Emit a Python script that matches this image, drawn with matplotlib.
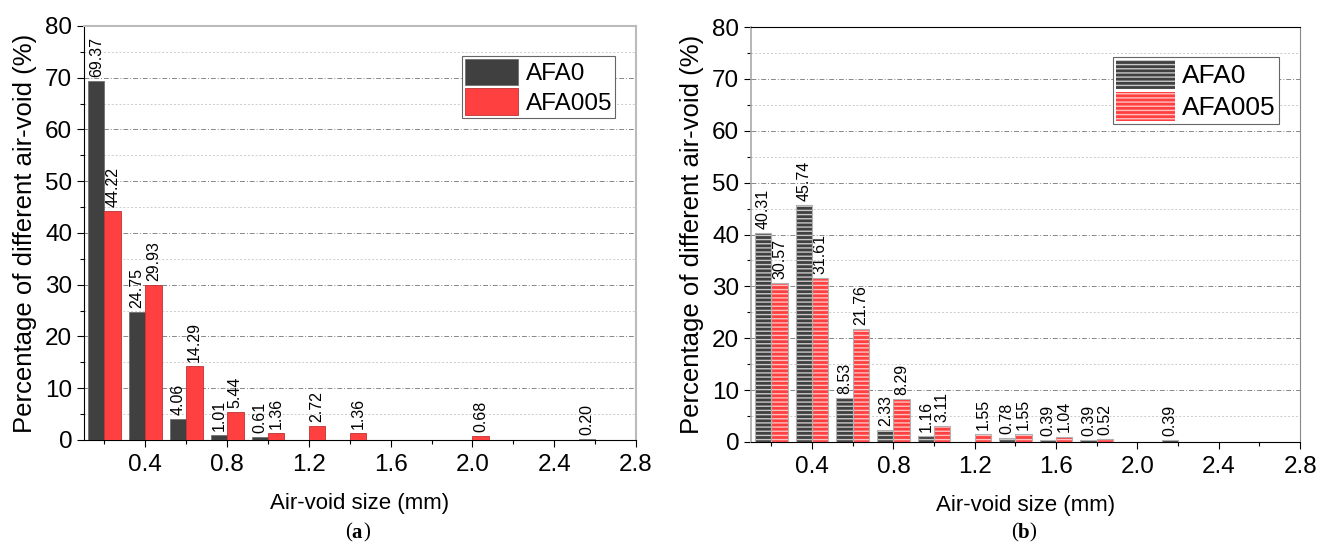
import numpy as np
import matplotlib.pyplot as plt
from matplotlib.patches import Patch

plt.rcParams['font.family'] = ['Liberation Sans', 'DejaVu Sans']

# air-void size groups (mm)
sizes = [0.2, 0.4, 0.6, 0.8, 1.0, 1.2, 1.4, 1.6, 1.8, 2.0, 2.2, 2.4, 2.6]

# panel (a)
a_afa0 = [69.37, 24.75, 4.06, 1.01, 0.61, 0, 0, 0, 0, 0, 0, 0, 0.20]
a_afa005 = [44.22, 29.93, 14.29, 5.44, 1.36, 2.72, 1.36, 0, 0, 0.68, 0, 0, 0]

# panel (b)
b_afa0 = [40.31, 45.74, 8.53, 2.33, 1.16, 0, 0.78, 0.39, 0.39, 0, 0.39, 0, 0]
b_afa005 = [30.57, 31.61, 21.76, 8.29, 3.11, 1.55, 1.55, 1.04, 0.52, 0, 0, 0, 0]

labels = ['AFA0', 'AFA005']
dark = '#404040'
red = '#ff4040'
w = 0.08

fig = plt.figure(figsize=(13.3, 5.54), dpi=100)
ax1 = fig.add_axes([0.0632, 0.2058, 0.415, 0.7473])
ax2 = fig.add_axes([0.5647, 0.2022, 0.4128, 0.749])


def draw_panel(ax, v0, v1, hatched, leg_size):
    x = np.array(sizes)
    if hatched:
        ax.bar(x - w / 2, v0, w, color=dark, edgecolor='#c8c8c8', hatch='----', linewidth=0, zorder=3)
        ax.bar(x - w / 2, v0, w, fill=False, edgecolor='#b0b0b0', linewidth=0.8, zorder=4)
        ax.bar(x + w / 2, v1, w, color=red, edgecolor='#ffc0c0', hatch='----', linewidth=0, zorder=3)
        ax.bar(x + w / 2, v1, w, fill=False, edgecolor='#b0b0b0', linewidth=0.8, zorder=4)
    else:
        ax.bar(x - w / 2, v0, w, color=dark, edgecolor='#707070', linewidth=0.6, zorder=3)
        ax.bar(x + w / 2, v1, w, color=red, edgecolor='#c03030', linewidth=0.6, zorder=3)
    for xi, a, b in zip(x, v0, v1):
        if a > 0:
            ax.text(xi - w / 2, a + 0.8, f'{a:.2f}', rotation=90, ha='center', va='bottom', fontsize=11.5)
        if b > 0:
            ax.text(xi + w / 2, b + 0.8, f'{b:.2f}', rotation=90, ha='center', va='bottom', fontsize=11.5)

    ax.set_xlim(0.1, 2.8)
    ax.set_ylim(0, 80)
    ax.set_xticks([0.4, 0.8, 1.2, 1.6, 2.0, 2.4, 2.8])
    ax.set_xticklabels(['0.4', '0.8', '1.2', '1.6', '2.0', '2.4', '2.8'])
    ax.set_xticks(np.arange(0.2, 2.8, 0.4), minor=True)
    ax.set_yticks(np.arange(0, 81, 10))
    ax.set_yticks(np.arange(5, 80, 10), minor=True)
    ax.tick_params(axis='both', which='major', labelsize=17.5, direction='out', length=5, width=0.8)
    ax.tick_params(axis='x', which='major', pad=5)
    ax.tick_params(axis='both', which='minor', direction='out', length=3, width=0.8)
    ax.yaxis.grid(True, which='major', linestyle=(0, (5, 2, 1, 2)), color='#888888', linewidth=0.7, zorder=0)
    ax.yaxis.grid(True, which='minor', linestyle=(0, (2, 2)), color='#cccccc', linewidth=0.7, zorder=0)
    ax.set_axisbelow(True)
    ax.set_xlabel('Air-void size (mm)', fontsize=16, labelpad=12)
    ax.set_ylabel('Percentage of different air-void (%)', fontsize=18.5)
    ax.yaxis.set_label_coords(-0.086, 0.5)

    if hatched:
        handles = [Patch(facecolor=dark, edgecolor='#c8c8c8', hatch='----', linewidth=0),
                   Patch(facecolor=red, edgecolor='#ffc0c0', hatch='----', linewidth=0)]
    else:
        handles = [Patch(facecolor=dark, edgecolor='#707070', linewidth=0.6),
                   Patch(facecolor=red, edgecolor='#c03030', linewidth=0.6)]
    leg = ax.legend(handles, labels, loc='upper right', bbox_to_anchor=(0.962, 0.928),
                    fontsize=leg_size, handlelength=2.2, handleheight=1.3, labelspacing=0.12,
                    handletextpad=0.3, borderpad=0.12, borderaxespad=0, fancybox=False,
                    framealpha=1, edgecolor='#666666')
    leg.get_frame().set_linewidth(0.8)


draw_panel(ax1, a_afa0, a_afa005, False, 17.5)
draw_panel(ax2, b_afa0, b_afa005, True, 19)

for sp in ['top', 'right']:
    ax1.spines[sp].set_color('#bbbbbb')
    ax1.spines[sp].set_linewidth(1.5)
ax2.spines['left'].set_color('#aaaaaa')
ax2.spines['left'].set_linewidth(1.2)
ax2.spines['right'].set_color('#888888')


def panel_tag(xc, letter):
    y = 0.038
    fig.text(xc - 0.0055, y, '(', fontsize=15, family='Liberation Serif', ha='right', va='center')
    fig.text(xc - 0.0055, y, letter, fontsize=15, family='Liberation Serif', weight='bold', ha='left', va='center')
    fig.text(xc + 0.003, y, ')', fontsize=15, family='Liberation Serif', ha='left', va='center')


panel_tag(0.270, 'a')
panel_tag(0.771, 'b')

fig.savefig('out.png', dpi=100)
